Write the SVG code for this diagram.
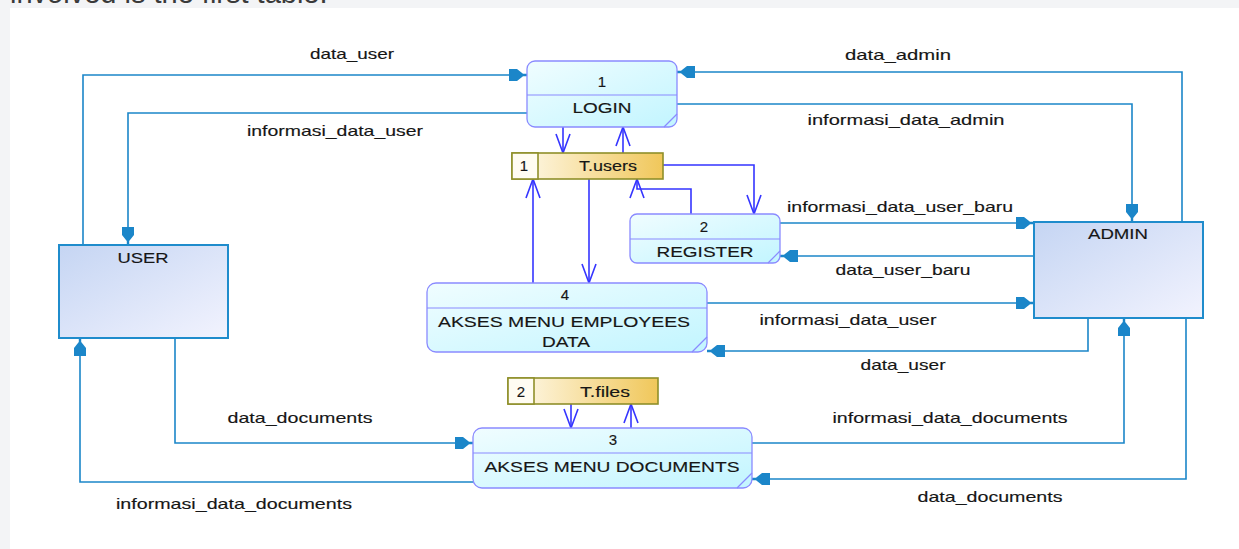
<svg xmlns="http://www.w3.org/2000/svg" width="1239" height="549" viewBox="0 0 1239 549">
  <defs>
    <linearGradient id="procFill" x1="0" y1="0" x2="1" y2="1">
      <stop offset="0" stop-color="#f0fdff"/>
      <stop offset="1" stop-color="#c2f5ff"/>
    </linearGradient>
    <linearGradient id="storeFill" x1="0" y1="0" x2="1" y2="0">
      <stop offset="0" stop-color="#fffbf0"/>
      <stop offset="1" stop-color="#f0c75a"/>
    </linearGradient>
    <linearGradient id="entityFill" x1="0" y1="0" x2="1" y2="1">
      <stop offset="0" stop-color="#c5d5f3"/>
      <stop offset="1" stop-color="#f2f3fe"/>
    </linearGradient>
    <!-- data flow arrowhead: filled block + point -->
    <marker id="flowHead" viewBox="-20 -8 20 16" refX="0" refY="0" markerWidth="20" markerHeight="16" markerUnits="userSpaceOnUse" orient="auto">
      <path d="M0,-1.2 L-4,-1.2 L-10,-6 L-18,-6 L-18,6 L-10,6 L-4,1.2 L0,1.2 Z" fill="#1b86c9"/>
    </marker>
    <!-- data store access arrowhead: open V -->
    <marker id="storeHead" viewBox="-20 -9 21 18" refX="0" refY="0" markerWidth="21" markerHeight="18" markerUnits="userSpaceOnUse" orient="auto">
      <path d="M-19,-7 L0,0 L-19,7" fill="none" stroke="#3535ff" stroke-width="1.6"/>
    </marker>
  </defs>
  <style>
    .lbl { font-family: "Liberation Sans", Arial, sans-serif; font-size: 15px; fill: #161616; text-anchor: middle; stroke: #161616; stroke-width: 0.15; }
    .proc { fill: url(#procFill); stroke: #8a8aff; stroke-width: 1.3; }
    .sep { stroke: #8a8aff; stroke-width: 1.2; }
    .store { fill: url(#storeFill); stroke: #8f8f2a; stroke-width: 1.6; }
    .storeNo { fill: #fffcf2; stroke: #8f8f2a; stroke-width: 1.6; }
    .entity { fill: url(#entityFill); stroke: #1f8ccc; stroke-width: 2; }
    .flow { fill: none; stroke: #1b86c9; stroke-width: 1.6; marker-end: url(#flowHead); }
    .access { fill: none; stroke: #3535ff; stroke-width: 1.6; marker-end: url(#storeHead); }
  </style>

  <!-- page backdrop -->
  <rect x="0" y="0" width="1239" height="549" fill="#f3f4f6"/>
  <rect x="10" y="8" width="1229" height="541" fill="#ffffff"/>
  <text x="10" y="3" font-family="Liberation Sans, Arial, sans-serif" font-size="29" fill="#3a3a3a">involved is the first table.</text>

  <!-- connectors -->
  <g id="connectors">
    <!-- external entity flows -->
    <path class="flow" d="M83,245 V75 H527"/>
    <path class="flow" d="M527,113 H128 V245"/>
    <path class="flow" d="M1182,222 V72 H677"/>
    <path class="flow" d="M677,104 H1132 V222"/>
    <path class="flow" d="M780,223 H1034"/>
    <path class="flow" d="M1034,256 H780"/>
    <path class="flow" d="M707,303 H1034"/>
    <path class="flow" d="M1088,318 V351 H707"/>
    <path class="flow" d="M752,443 H1124 V318"/>
    <path class="flow" d="M1186,318 V479 H752"/>
    <path class="flow" d="M175,338 V443 H473"/>
    <path class="flow" d="M473,482 H80 V338"/>
    <!-- data store access -->
    <path class="access" d="M563,127 V153"/>
    <path class="access" d="M623,153 V127"/>
    <path class="access" d="M663,165 H754 V214"/>
    <path class="access" d="M691,214 V189 H637 V179"/>
    <path class="access" d="M589,179 V283"/>
    <path class="access" d="M533,283 V179"/>
    <path class="access" d="M571,404 V428"/>
    <path class="access" d="M631,428 V404"/>

    <!-- flow labels -->
    <text class="lbl" x="352" y="59" textLength="84" lengthAdjust="spacingAndGlyphs">data_user</text>
    <text class="lbl" x="335" y="136" textLength="176" lengthAdjust="spacingAndGlyphs">informasi_data_user</text>
    <text class="lbl" x="898" y="60" textLength="106" lengthAdjust="spacingAndGlyphs">data_admin</text>
    <text class="lbl" x="906" y="125" textLength="197" lengthAdjust="spacingAndGlyphs">informasi_data_admin</text>
    <text class="lbl" x="900" y="212" textLength="226" lengthAdjust="spacingAndGlyphs">informasi_data_user_baru</text>
    <text class="lbl" x="903" y="275" textLength="135" lengthAdjust="spacingAndGlyphs">data_user_baru</text>
    <text class="lbl" x="848" y="325" textLength="177" lengthAdjust="spacingAndGlyphs">informasi_data_user</text>
    <text class="lbl" x="903" y="370" textLength="85" lengthAdjust="spacingAndGlyphs">data_user</text>
    <text class="lbl" x="950" y="423" textLength="235" lengthAdjust="spacingAndGlyphs">informasi_data_documents</text>
    <text class="lbl" x="990" y="502" textLength="145" lengthAdjust="spacingAndGlyphs">data_documents</text>
    <text class="lbl" x="300" y="423" textLength="145" lengthAdjust="spacingAndGlyphs">data_documents</text>
    <text class="lbl" x="234" y="509" textLength="236" lengthAdjust="spacingAndGlyphs">informasi_data_documents</text>
  </g>

  <!-- processes -->
  <g id="proc-login">
    <rect class="proc" x="527" y="61" width="150" height="66" rx="8"/>
    <line class="sep" x1="527" y1="95" x2="677" y2="95"/>
    <line class="sep" x1="664" y1="127" x2="677" y2="114"/>
    <text class="lbl" x="602" y="87">1</text>
    <text class="lbl" x="602" y="113" textLength="59" lengthAdjust="spacingAndGlyphs">LOGIN</text>
  </g>
  <g id="proc-register">
    <rect class="proc" x="630" y="214" width="150" height="49" rx="7"/>
    <line class="sep" x1="630" y1="239" x2="780" y2="239"/>
    <line class="sep" x1="768" y1="263" x2="780" y2="251"/>
    <text class="lbl" x="704" y="232">2</text>
    <text class="lbl" x="705" y="257" textLength="97" lengthAdjust="spacingAndGlyphs">REGISTER</text>
  </g>
  <g id="proc-employees">
    <rect class="proc" x="427" y="283" width="280" height="69" rx="9"/>
    <line class="sep" x1="427" y1="308" x2="707" y2="308"/>
    <line class="sep" x1="692" y1="352" x2="707" y2="337"/>
    <text class="lbl" x="565" y="300">4</text>
    <text class="lbl" x="564" y="327" textLength="252" lengthAdjust="spacingAndGlyphs">AKSES MENU EMPLOYEES</text>
    <text class="lbl" x="566" y="347" textLength="48" lengthAdjust="spacingAndGlyphs">DATA</text>
  </g>
  <g id="proc-documents">
    <rect class="proc" x="473" y="428" width="279" height="60" rx="9"/>
    <line class="sep" x1="473" y1="453" x2="752" y2="453"/>
    <line class="sep" x1="737" y1="488" x2="752" y2="473"/>
    <text class="lbl" x="613" y="445">3</text>
    <text class="lbl" x="612" y="472" textLength="255" lengthAdjust="spacingAndGlyphs">AKSES MENU DOCUMENTS</text>
  </g>

  <!-- data stores -->
  <g id="store-users">
    <rect class="store" x="512" y="153" width="151" height="26"/>
    <rect class="storeNo" x="512" y="153" width="26" height="26"/>
    <text class="lbl" x="524" y="171">1</text>
    <text class="lbl" x="608" y="171" textLength="58" lengthAdjust="spacingAndGlyphs">T.users</text>
  </g>
  <g id="store-files">
    <rect class="store" x="508" y="378" width="150" height="26"/>
    <rect class="storeNo" x="508" y="378" width="26" height="26"/>
    <text class="lbl" x="521" y="397">2</text>
    <text class="lbl" x="605" y="397" textLength="50" lengthAdjust="spacingAndGlyphs">T.files</text>
  </g>

  <!-- external entities -->
  <g id="entity-user">
    <rect class="entity" x="59" y="245" width="169" height="93"/>
    <text class="lbl" x="143" y="263" textLength="51" lengthAdjust="spacingAndGlyphs">USER</text>
  </g>
  <g id="entity-admin">
    <rect class="entity" x="1034" y="222" width="169" height="96"/>
    <text class="lbl" x="1118" y="239" textLength="60" lengthAdjust="spacingAndGlyphs">ADMIN</text>
  </g>
</svg>
